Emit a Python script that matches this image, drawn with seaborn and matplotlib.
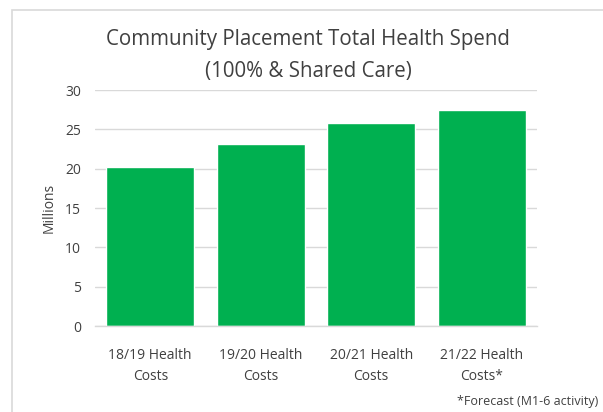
import matplotlib
matplotlib.use("Agg")
import matplotlib.pyplot as plt
import seaborn as sns
import pandas as pd
from matplotlib.patches import Rectangle

categories = ["18/19 Health\nCosts", "19/20 Health\nCosts", "20/21 Health\nCosts", "21/22 Health\nCosts*"]
spend_millions = [20.2, 23.1, 25.85, 27.4]
y_ticks = [0, 5, 10, 15, 20, 25, 30]

sns.set_theme(style="white")
plt.rcParams["font.family"] = ["Open Sans", "DejaVu Sans"]

text_color = "#404040"
df = pd.DataFrame({"period": categories, "spend": spend_millions})

fig = plt.figure(figsize=(6.03, 4.12), dpi=100)
fig.patch.set_facecolor("white")
# chart area frame
fig.patches.append(Rectangle((12 / 603, -0.05), 1.1, 1 - 10 / 412 + 0.05,
                             transform=fig.transFigure, fill=False,
                             edgecolor="#D9D9D9", linewidth=1.2))

ax = fig.add_axes([95 / 603, 1 - 326 / 412, 442 / 603, 236 / 412])
sns.barplot(data=df, x="period", y="spend", color="#00B050", saturation=1,
            width=0.8, ax=ax)

ax.set_ylim(0, 30)
ax.set_yticks(y_ticks)
ax.yaxis.grid(True, color="#D9D9D9", linewidth=1)
ax.set_axisbelow(True)
for side in ["top", "right", "left"]:
    ax.spines[side].set_visible(False)
ax.spines["bottom"].set_color("#D9D9D9")
ax.spines["bottom"].set_linewidth(1)
ax.tick_params(axis="both", length=0, colors=text_color, labelsize=10)
ax.tick_params(axis="y", pad=10)
ax.tick_params(axis="x", pad=16)
for lbl in ax.get_xticklabels():
    lbl.set_linespacing(1.55)
ax.set_xlabel("")
ax.set_ylabel("Millions", color=text_color, fontsize=10, labelpad=6)

fig.text(308 / 603, 1 - 40 / 412, "Community Placement Total Health Spend",
         ha="center", va="center", fontsize=14.8, color=text_color)
fig.text(308 / 603, 1 - 72 / 412, "(100% & Shared Care)",
         ha="center", va="center", fontsize=14.8, color=text_color)
fig.text(598 / 603, 1 - 401 / 412, "*Forecast (M1-6 activity)",
         ha="right", va="center", fontsize=9, color=text_color)

fig.savefig("out.png", dpi=100)
